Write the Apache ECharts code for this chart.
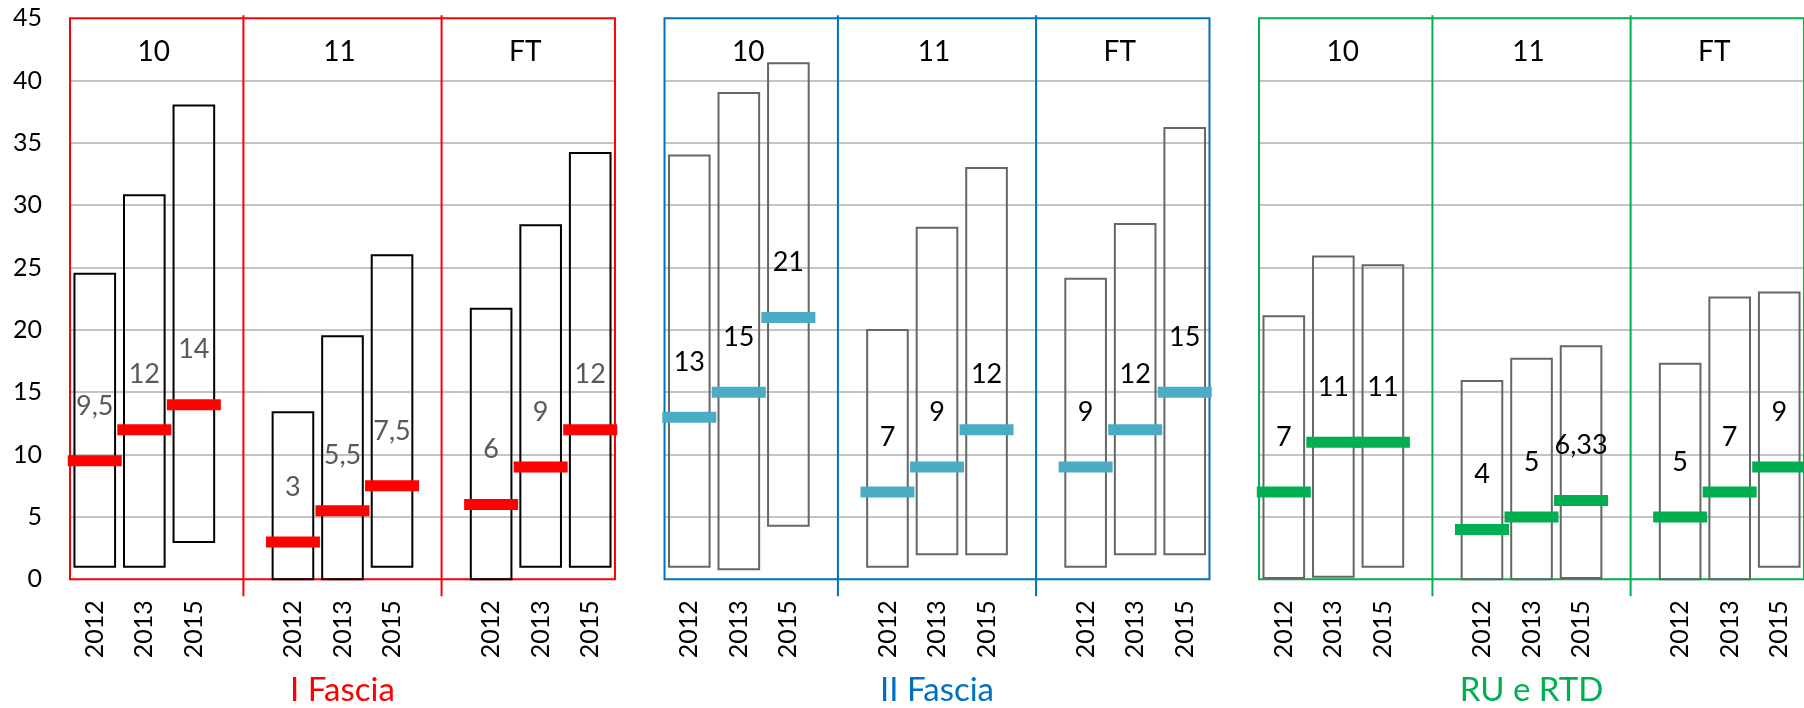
<!DOCTYPE html>
<html><head><meta charset="utf-8">
<script src="https://cdn.jsdelivr.net/npm/echarts@6/dist/echarts.min.js"></script>
<style>html,body{margin:0;padding:0;background:#fff}#c{width:1804px;height:708px}</style>
</head><body><div id="c"></div>
<script>
// ---------- data ----------
const years = ['2012', '2013', '2015'];
const groups = ['10', '11', 'FT'];
const panelNames = ['I Fascia', 'II Fascia', 'RU e RTD'];
const yTicks = [0, 5, 10, 15, 20, 25, 30, 35, 40, 45];

// order inside each panel: group 10 (2012, 2013, 2015), group 11 (...), group FT (...)
const iFasciaLow    = [1, 1, 3,      0, 0, 1,        0, 1, 1];
const iFasciaHigh   = [24.5, 30.8, 38, 13.4, 19.5, 26, 21.7, 28.4, 34.2];
const iFasciaMedian = [9.5, 12, 14,  3, 5.5, 7.5,    6, 9, 12];

const iiFasciaLow    = [1, 0.8, 4.3, 1, 2, 2,        1, 2, 2];
const iiFasciaHigh   = [34, 39, 41.4, 20, 28.2, 33,  24.1, 28.5, 36.2];
const iiFasciaMedian = [13, 15, 21,  7, 9, 12,       9, 12, 15];

const ruLow    = [0.1, 0.2, 1,   0, 0, 0.1,          0, 0, 1];
const ruHigh   = [21.1, 25.9, 25.2, 15.9, 17.7, 18.7, 17.3, 22.6, 23];
const ruMedian = [7, 11, 11,     4, 5, 6.33,         5, 7, 9];

const panelData = [
  [iFasciaLow, iFasciaHigh, iFasciaMedian],
  [iiFasciaLow, iiFasciaHigh, iiFasciaMedian],
  [ruLow, ruHigh, ruMedian]
];

// ---------- styles ----------
const panelStyles = [
  { frame: '#FF0000', barStroke: '#000000', marker: '#FF0000', label: '#595959', title: '#FF0000' },
  { frame: '#0070C0', barStroke: '#666666', marker: '#4BACC6', label: '#000000', title: '#0070C0' },
  { frame: '#00B050', barStroke: '#666666', marker: '#00B050', label: '#000000', title: '#00B050' }
];
const FONT = 'Lato, "Open Sans", sans-serif';

// ---------- build categories ----------
const perGroup = years.length + 1;             // 3 bars + blank separator
const perPanel = groups.length * perGroup;     // includes blank after last group (panel gap)
const categories = [];
panelNames.forEach((p, pi) => {
  groups.forEach((g, gi) => {
    years.forEach(y => categories.push(y));
    if (gi < groups.length - 1) categories.push('');
  });
  if (pi < panelNames.length - 1) categories.push('');
});

const panelRanges = panelNames.map((n, pi) => [pi * perPanel, pi * perPanel + perPanel - 2, pi]);

function fmt(v) { return String(v).replace('.', ','); }

function boxSeriesData(pi) {
  const [lo, hi, md] = panelData[pi];
  const out = [];
  groups.forEach((g, gi) => {
    years.forEach((y, yi) => {
      const k = gi * years.length + yi;
      out.push([pi * perPanel + gi * perGroup + yi, lo[k], hi[k], md[k]]);
    });
  });
  return out;
}

function boxRender(st) {
  return function (params, api) {
    const idx = api.value(0);
    const lo = api.coord([idx, api.value(1)]);
    const hi = api.coord([idx, api.value(2)]);
    const md = api.coord([idx, api.value(3)]);
    const cw = api.size([1, 0])[0];
    const bw = cw * 0.82;
    const mw = cw * 1.09;
    const mh = 11;
    return {
      type: 'group',
      children: [
        { type: 'rect', shape: { x: lo[0] - bw / 2, y: hi[1], width: bw, height: lo[1] - hi[1] },
          style: { fill: 'none', stroke: st.barStroke, lineWidth: 2 } },
        { type: 'rect', shape: { x: md[0] - mw / 2, y: md[1] - mh / 2, width: mw, height: mh },
          style: { fill: st.marker } },
        { type: 'text', style: { text: fmt(api.value(3)), x: md[0], y: md[1] - 55, align: 'center',
          verticalAlign: 'middle', fill: st.label, font: '27px ' + FONT } }
      ]
    };
  };
}

function panelRender(params, api) {
  const pi = api.value(2);
  const st = panelStyles[pi];
  const start = api.value(0), end = api.value(1);
  const cw = api.size([1, 0])[0];
  const x0 = api.coord([start, 0])[0] - cw / 2;
  const x1 = api.coord([end, 0])[0] + cw / 2;
  const yBot = api.coord([start, yTicks[0]])[1];
  const yTop = api.coord([start, yTicks[yTicks.length - 1]])[1];
  const children = [];
  yTicks.slice(1, -1).forEach(t => {
    const y = Math.round(api.coord([start, t])[1]);
    children.push({ type: 'line', shape: { x1: x0, y1: y, x2: x1, y2: y },
      style: { stroke: '#C4C4C4', lineWidth: 2 } });
  });
  children.push({ type: 'rect', shape: { x: x0, y: yTop, width: x1 - x0, height: yBot - yTop },
    style: { fill: 'none', stroke: st.frame, lineWidth: 2 } });
  const divs = [];
  for (let gi = 0; gi < groups.length - 1; gi++) {
    const x = api.coord([start + gi * perGroup + years.length, 0])[0];
    divs.push(x);
    children.push({ type: 'line', shape: { x1: x, y1: yTop - 3, x2: x, y2: yBot + 17 },
      style: { stroke: st.frame, lineWidth: 2 } });
  }
  groups.forEach((g, gi) => {
    const l = gi === 0 ? x0 : divs[gi - 1];
    const r = gi === groups.length - 1 ? x1 : divs[gi];
    children.push({ type: 'text', style: { text: g, x: (l + r) / 2 - 3, y: yTop + 34, align: 'center',
      verticalAlign: 'middle', fill: '#000', font: '28px ' + FONT } });
  });
  children.push({ type: 'text', style: { text: panelNames[pi], x: (x0 + x1) / 2, y: yBot + 111,
    align: 'center', verticalAlign: 'middle', fill: st.title, font: '33px ' + FONT } });
  return { type: 'group', children };
}

const chart = echarts.init(document.getElementById('c'), null, { renderer: 'canvas' });
const series = [{
  type: 'custom', name: 'panels', data: panelRanges, renderItem: panelRender, z: 1,
  encode: { x: [0, 1], y: -1 }, silent: true, clip: false
}];
panelNames.forEach((p, pi) => {
  series.push({
    type: 'custom', name: p, data: boxSeriesData(pi), renderItem: boxRender(panelStyles[pi]), z: 3,
    encode: { x: 0, y: [1, 2, 3] }, clip: false
  });
});

chart.setOption({
  animation: false,
  backgroundColor: '#fff',
  grid: { left: 70, top: 18.3, width: 1738, bottom: 128.7, containLabel: false },
  xAxis: {
    type: 'category', data: categories, boundaryGap: true,
    axisLine: { show: false }, axisTick: { show: false }, splitLine: { show: false },
    axisLabel: { interval: 0, rotate: 90, margin: 21, fontSize: 25, fontFamily: FONT, color: '#000' }
  },
  yAxis: {
    type: 'value', min: yTicks[0], max: yTicks[yTicks.length - 1], interval: 5,
    axisLine: { show: false }, axisTick: { show: false }, splitLine: { show: false },
    axisLabel: { margin: 28, fontSize: 25, fontFamily: FONT, color: '#000' }
  },
  series
});
</script></body></html>
